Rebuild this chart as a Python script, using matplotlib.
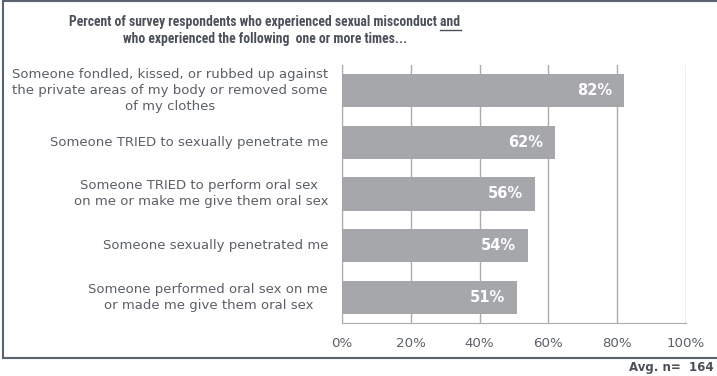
import matplotlib
matplotlib.use("Agg")
import matplotlib.pyplot as plt
from matplotlib.lines import Line2D

categories = [
    "Someone fondled, kissed, or rubbed up against\nthe private areas of my body or removed some\nof my clothes",
    "Someone TRIED to sexually penetrate me",
    "Someone TRIED to perform oral sex \non me or make me give them oral sex",
    "Someone sexually penetrated me",
    "Someone performed oral sex on me\nor made me give them oral sex",
]
values = [82, 62, 56, 54, 51]
xticks = [0, 20, 40, 60, 80, 100]
title_line1 = "Percent of survey respondents who experienced sexual misconduct "
title_underlined = "and"
title_line2 = "who experienced the following  one or more times..."
footnote = "Avg. n=  164"

W, H = 717, 376
fig = plt.figure(figsize=(W / 100, H / 100), dpi=100)
fig.patch.set_facecolor("white")

text_color = "#5a5f68"
title_color = "#4a505a"
bar_color = "#a6a7ab"
grid_color = "#a9abae"
frame_color = "#5c6370"
title_kw = dict(fontweight="bold", color=title_color,
                family=["Roboto Condensed", "Roboto", "DejaVu Sans"])

ax = fig.add_axes([342 / W, 1 - 323 / H, (686 - 342) / W, (323 - 65) / H])
ypos = list(range(len(categories)))
ax.barh(ypos, values, height=0.64, color=bar_color, zorder=3)
ax.set_ylim(len(categories) - 0.5, -0.5)
ax.set_xlim(0, 100)
ax.set_xticks(xticks)
ax.set_xticklabels([f"{t}%" for t in xticks], fontsize=9.6, color=text_color)
ax.tick_params(axis="x", length=0, pad=10)
ax.set_yticks(ypos)
ax.set_yticklabels([])
ax.tick_params(axis="y", length=0)
for t in xticks:
    ax.axvline(t, color=grid_color, lw=1.0, zorder=1)
for s in ["top", "right"]:
    ax.spines[s].set_visible(False)
ax.spines["bottom"].set_color(grid_color)
ax.spines["left"].set_color(grid_color)

for y, label, v in zip(ypos, categories, values):
    ax.text(-0.04, y, label, transform=ax.get_yaxis_transform(), ha="right",
            va="center", multialignment="center", fontsize=9.5,
            color=text_color, linespacing=1.3)
    ax.text(v - 3.5, y, f"{v}%", ha="right", va="center", fontsize=10.5,
            fontweight="bold", color="white", zorder=4)

# title: size the bold heading to a 392 px wide first line (capped)
fig.canvas.draw()
renderer = fig.canvas.get_renderer()
probe = fig.text(0, 0, title_line1 + title_underlined, fontsize=10, **title_kw)
tsize = min(10.2, 10 * 392 / probe.get_window_extent(renderer).width)
probe.remove()

cx = 265 / W
t1 = fig.text(cx, 1 - 22 / H, title_line1 + title_underlined, ha="center",
              va="center", fontsize=tsize, **title_kw)
fig.text(cx, 1 - 39 / H, title_line2, ha="center", va="center",
         fontsize=tsize, **title_kw)
fig.canvas.draw()
bb = t1.get_window_extent(renderer)
probe = fig.text(0, 0, title_underlined, fontsize=tsize, **title_kw)
wb = probe.get_window_extent(renderer)
probe.remove()
x1 = bb.x1 / W
x0 = (bb.x1 - wb.width) / W
uy = (bb.y0 - 0.5) / H
fig.add_artist(Line2D([x0, x1], [uy, uy], transform=fig.transFigure,
                      color=title_color, lw=1.0))

# frame around the chart area
fig.add_artist(Line2D([2.5 / W, 1], [1 - 0.8 / H, 1 - 0.8 / H],
                      transform=fig.transFigure, color=frame_color, lw=1.5))
fig.add_artist(Line2D([2.5 / W, 2.5 / W], [1, 1 - 358 / H],
                      transform=fig.transFigure, color=frame_color, lw=1.5))
fig.add_artist(Line2D([2.5 / W, 1], [1 - 358 / H, 1 - 358 / H],
                      transform=fig.transFigure, color=frame_color, lw=1.5))

fig.text(714 / W, 1 - 368 / H, footnote, ha="right", va="center",
         fontsize=8.5, fontweight="bold", color=title_color)

fig.savefig("out.png", dpi=100, facecolor="white")
